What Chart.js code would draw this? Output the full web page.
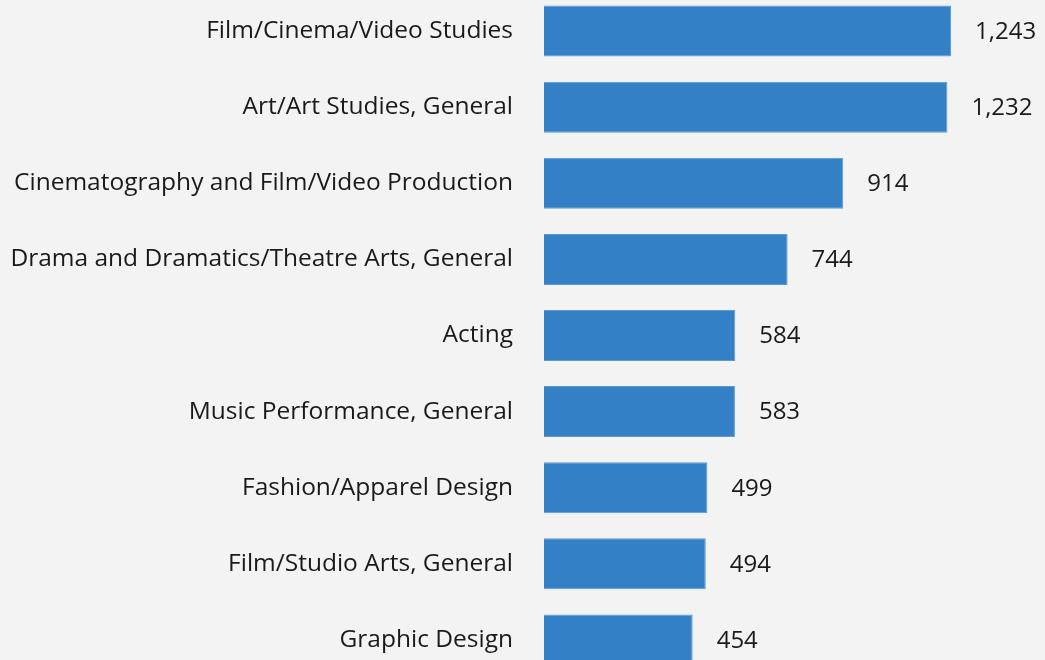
<!DOCTYPE html>
<html>
<head>
<meta charset="utf-8">
<script src="https://cdn.jsdelivr.net/npm/chart.js@4"></script>
<style>
  html, body { margin: 0; padding: 0; background: #f3f3f3; overflow: hidden; }
  #majorsChart { position: absolute; left: 0; top: -7px; }
</style>
</head>
<body>
<canvas id="majorsChart" width="1045" height="685"></canvas>
<script>
// chart data
const majors = [
    "Film/Cinema/Video Studies",
    "Art/Art Studies, General",
    "Cinematography and Film/Video Production",
    "Drama and Dramatics/Theatre Arts, General",
    "Acting",
    "Music Performance, General",
    "Fashion/Apparel Design",
    "Film/Studio Arts, General",
    "Graphic Design",
];
const counts = [1243, 1232, 914, 744, 584, 583, 499, 494, 454];

const fontFamily = '"Open Sans", sans-serif';

// draws the number just past the end of each bar
const valueLabels = {
    id: 'valueLabels',
    afterDatasetsDraw(chart) {
        const ctx = chart.ctx;
        const meta = chart.getDatasetMeta(0);
        ctx.save();
        ctx.font = '24px ' + fontFamily;
        ctx.fillStyle = '#1a1a1a';
        ctx.textAlign = 'left';
        ctx.textBaseline = 'middle';
        meta.data.forEach((bar, i) => {
            ctx.fillText(counts[i].toLocaleString('en-US'), bar.x + 24, bar.y + 1);
        });
        ctx.restore();
    }
};

const ctx = document.getElementById('majorsChart').getContext('2d');
new Chart(ctx, {
    type: 'bar',
    data: {
        labels: majors,
        datasets: [{
            data: counts,
            backgroundColor: '#3380c6',
            borderColor: '#5f9bd3',
            borderWidth: 1,
            barPercentage: 0.67,
            categoryPercentage: 1,
        }],
    },
    options: {
        indexAxis: 'y',
        responsive: false,
        animation: false,
        layout: { padding: 0 },
        plugins: {
            legend: { display: false },
            tooltip: { enabled: false },
        },
        scales: {
            x: {
                display: false,
                min: 0,
                max: 1530,
            },
            y: {
                grid: { display: false, drawTicks: false },
                border: { display: false },
                afterFit: scale => {
                    scale.width = 544;
                    scale.paddingTop = 0;
                    scale.paddingBottom = 0;
                },
                ticks: {
                    color: '#1a1a1a',
                    padding: 31,
                    font: { family: fontFamily, size: 24.5 },
                },
            },
        },
    },
    plugins: [valueLabels],
});
</script>
</body>
</html>
